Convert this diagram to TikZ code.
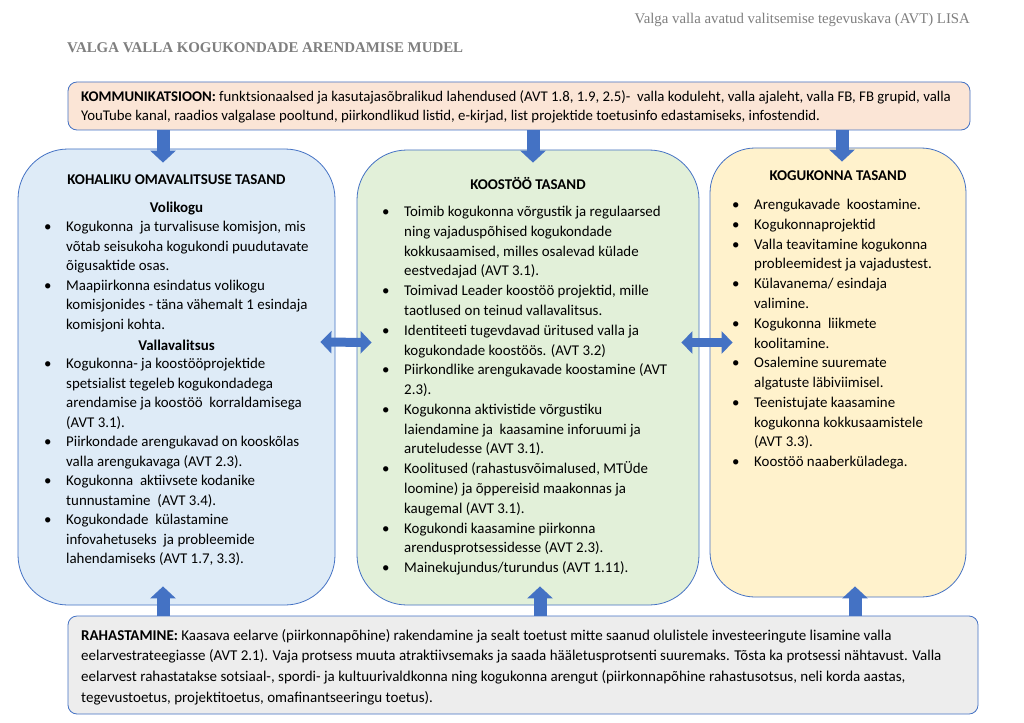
\documentclass[tikz,border=0pt]{standalone}
\usepackage{fontspec}
\setmainfont{Carlito}
\newfontfamily\headserif{Liberation Serif}
\usepackage{xcolor}
\usetikzlibrary{arrows.meta, positioning, calc}
\definecolor{mud-blue}{HTML}{4472C4}
\definecolor{mud-peach}{HTML}{FBE5D6}
\definecolor{mud-lblue}{HTML}{DEEBF7}
\definecolor{mud-green}{HTML}{E2F0D9}
\definecolor{mud-yellow}{HTML}{FFF2CC}
\definecolor{mud-grey}{HTML}{EDEDED}
\definecolor{mud-text}{HTML}{7F7F7F}
\newcommand{\bul}{\makebox[22pt][l]{\textbullet}}
\newcommand{\ind}{\hspace*{22pt}}

\begin{document}
\begin{tikzpicture}[x=1pt, y=-1pt,
    colbox/.style={draw=mud-blue, line width=0.8pt, rounded corners=50pt},
    bandbox/.style={draw=mud-blue, line width=0.8pt, rounded corners=9pt},
    blockarr/.style={line width=13pt, color=mud-blue, -{Triangle[length=12pt, width=25pt]}},
    dblarr/.style={line width=9pt, color=mud-blue,
                   {Triangle[length=11pt, width=22pt]}-{Triangle[length=11pt, width=22pt]}},
    ttl/.style={font=\fontsize{14.9}{16}\selectfont\bfseries, inner sep=0pt},
    lst/.style={anchor=north west, inner sep=0pt, align=left,
                font=\fontsize{14.9}{19.6}\selectfont},
    band/.style={anchor=north west, inner sep=0pt, align=left,
                 font=\fontsize{14.8}{19.4}\selectfont}
  ]
    \fill[white] (0,0) rectangle (1024,722);
    \useasboundingbox (0,0) rectangle (1024,722);

    % page header
    \node[anchor=east, inner sep=0pt, text=mud-text,
          font=\headserif\fontsize{14.8}{16}\selectfont] (hdr) at (970,20)
          {Valga valla avatud valitsemise tegevuskava (AVT) LISA};
    \node[anchor=west, inner sep=0pt, text=mud-text,
          font=\headserif\fontsize{14.9}{16}\selectfont\bfseries] (mdl) at (67,48)
          {VALGA VALLA KOGUKONDADE ARENDAMISE MUDEL};

    % boxes
    \node[bandbox, fill=mud-peach, minimum width=902pt, minimum height=48pt] (kom) at (519,106) {};
    \node[colbox, fill=mud-lblue,  minimum width=317pt, minimum height=456pt] (lk)  at (176.5,377) {};
    \node[colbox, fill=mud-green,  minimum width=342pt, minimum height=455pt] (kt)  at (528,377.5) {};
    \node[colbox, fill=mud-yellow, rounded corners=45pt,
          minimum width=256pt, minimum height=449pt] (kg)  at (838,372.5) {};
    \node[bandbox, fill=mud-grey,  minimum width=910pt, minimum height=98pt] (rah) at (523,665) {};

    % communication
    \node[band] (kom-txt) at (81,90.5)
      {\textbf{KOMMUNIKATSIOON:} funktsionaalsed ja kasutajasõbralikud lahendused (AVT 1.8, 1.9, 2.5)-\ \ valla koduleht, valla ajaleht, valla FB, FB grupid, valla\\
       YouTube kanal, raadios valgalase pooltund, piirkondlikud listid, e-kirjad, list projektide toetusinfo edastamiseks, infostendid.};

    % local government level
    \node[ttl] (lk-ttl) at (176.5,180) {KOHALIKU OMAVALITSUSE TASAND};
    \node[ttl] (lk-vk)  at (176.5,209) {Volikogu};
    \node[lst] (lk-l1) at (44,221)
      {\bul Kogukonna\ \ ja turvalisuse komisjon, mis\\
       \ind võtab seisukoha kogukondi puudutavate\\
       \ind õigusaktide osas.\\
       \bul Maapiirkonna esindatus volikogu\\
       \ind komisjonides - täna vähemalt 1 esindaja\\
       \ind komisjoni kohta.};
    \node[ttl] (lk-vv)  at (176.5,345) {Vallavalitsus};
    \node[lst, font=\fontsize{14.9}{19.5}\selectfont] (lk-l2) at (44,358)
      {\bul Kogukonna- ja koostööprojektide\\
       \ind spetsialist tegeleb kogukondadega\\
       \ind arendamise ja koostöö\ \ korraldamisega\\
       \ind (AVT 3.1).\\
       \bul Piirkondade arengukavad on kooskõlas\\
       \ind valla arengukavaga (AVT 2.3).\\
       \bul Kogukonna\ \ aktiivsete kodanike\\
       \ind tunnustamine\ \ (AVT 3.4).\\
       \bul Kogukondade\ \ külastamine\\
       \ind infovahetuseks\ \ ja probleemide\\
       \ind lahendamiseks (AVT 1.7, 3.3).};

    % cooperation level
    \node[ttl] (kt-ttl) at (528,183) {KOOSTÖÖ TASAND};
    \node[lst, font=\fontsize{14.9}{19.78}\selectfont] (kt-l) at (382,206)
      {\bul Toimib kogukonna võrgustik ja regulaarsed\\
       \ind ning vajaduspõhised kogukondade\\
       \ind kokkusaamised, milles osalevad külade\\
       \ind eestvedajad (AVT 3.1).\\
       \bul Toimivad Leader koostöö projektid, mille\\
       \ind taotlused on teinud vallavalitsus.\\
       \bul Identiteeti tugevdavad üritused valla ja\\
       \ind kogukondade koostöös. (AVT 3.2)\\
       \bul Piirkondlike arengukavade koostamine (AVT\\
       \ind 2.3).\\
       \bul Kogukonna aktivistide võrgustiku\\
       \ind laiendamine ja\ \ kaasamine inforuumi ja\\
       \ind aruteludesse (AVT 3.1).\\
       \bul Koolitused (rahastusvõimalused, MTÜde\\
       \ind loomine) ja õppereisid maakonnas ja\\
       \ind kaugemal (AVT 3.1).\\
       \bul Kogukondi kaasamine piirkonna\\
       \ind arendusprotsessidesse (AVT 2.3).\\
       \bul Mainekujundus/turundus (AVT 1.11).};

    % community level
    \node[ttl] (kg-ttl) at (838,176) {KOGUKONNA TASAND};
    \node[lst, font=\fontsize{14.9}{19.78}\selectfont] (kg-l) at (732,199)
      {\bul Arengukavade\ \ koostamine.\\
       \bul Kogukonnaprojektid\\
       \bul Valla teavitamine kogukonna\\
       \ind probleemidest ja vajadustest.\\
       \bul Külavanema/ esindaja\\
       \ind valimine.\\
       \bul Kogukonna\ \ liikmete\\
       \ind koolitamine.\\
       \bul Osalemine suuremate\\
       \ind algatuste läbiviimisel.\\
       \bul Teenistujate kaasamine\\
       \ind kogukonna kokkusaamistele\\
       \ind (AVT 3.3).\\
       \bul Koostöö naaberküladega.};

    % funding
    \node[band, font=\fontsize{15}{20.8}\selectfont] (rah-txt) at (81,629)
      {\textbf{RAHASTAMINE:} Kaasava eelarve (piirkonnapõhine) rakendamine ja sealt toetust mitte saanud olulistele investeeringute lisamine valla\\
       eelarvestrateegiasse (AVT 2.1). Vaja protsess muuta atraktiivsemaks ja saada hääletusprotsenti suuremaks. Tõsta ka protsessi nähtavust. Valla\\
       eelarvest rahastatakse sotsiaal-, spordi- ja kultuurivaldkonna ning kogukonna arengut (piirkonnapõhine rahastusotsus, neli korda aastas,\\
       tegevustoetus, projektitoetus, omafinantseeringu toetus).};

    % arrows
    \draw[blockarr] ($(lk.north |- kom.south)+(-13.5,0)$) -- ($(lk.north)+(-13.5,14)$);
    \draw[blockarr] ($(kt.north |- kom.south)+(5,0)$)     -- ($(kt.north)+(5,13)$);
    \draw[blockarr] ($(kg.north |- kom.south)+(4,0)$)     -- ($(kg.north)+(4,14)$);
    \draw[blockarr] ($(lk.south |- rah.north)+(-13.5,0)$) -- ($(lk.south)+(-13.5,-19)$);
    \draw[blockarr] ($(kt.south |- rah.north)+(12,0)$)    -- ($(kt.south)+(12,-19)$);
    \draw[blockarr] ($(kg.south |- rah.north)+(17,0)$)    -- ($(kg.south)+(17,-11)$);
    \draw[dblarr] ($(lk.east)+(-15,-35)$) -- ($(kt.west)+(15,-35)$);
    \draw[dblarr] ($(kt.east)+(-18,-35)$) -- ($(kg.west)+(23,-30)$);
\end{tikzpicture}
\end{document}
